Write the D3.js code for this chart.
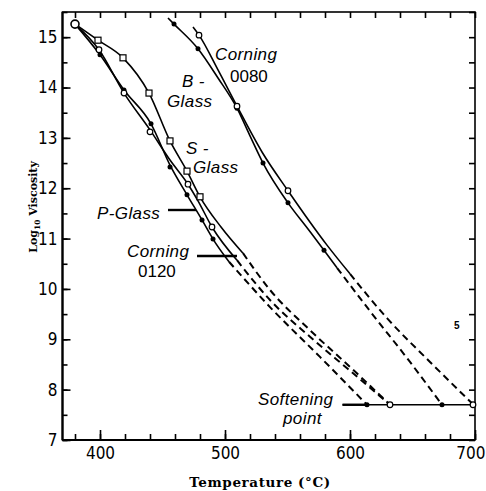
<!DOCTYPE html>
<html><head><meta charset="utf-8">
<script src="https://cdn.jsdelivr.net/npm/d3@7"></script>
<style>body{margin:0;background:#fff}</style>
</head><body>
<svg id="chart" width="486" height="491"></svg>
<script>
// ---- data (temperature °C, log10 viscosity) ----
const xMajorTicks = [400, 500, 600, 700];
const xMinorTicks = [380, 400, 420, 440, 460, 480, 500, 520, 540, 560, 580, 600, 620, 640, 660, 680, 700];
const yMajorTicks = [7, 8, 9, 10, 11, 12, 13, 14, 15];
const yMinorTicks = [7, 7.5, 8, 8.5, 9, 9.5, 10, 10.5, 11, 11.5, 12, 12.5, 13, 13.5, 14, 14.5, 15, 15.5];

const startPoint = [380, 15.26];

const pGlassSolid  = [[380,15.26],[400,14.65],[419.2,13.95],[440.8,13.28],[456,12.46],[469.6,11.87],[481.6,11.37],[490.4,10.99],[503.2,10.54]];
const pGlassDashed = [[503.2,10.54],[536,9.64],[576,8.65],[613.6,7.70]];
const pGlassPoints = [[400,14.65],[419.2,13.95],[440.8,13.28],[456,12.42],[469.6,11.87],[481.6,11.37],[490.4,10.99]];

const c0120Solid  = [[380,15.26],[399.2,14.75],[419.2,13.89],[440,13.16],[456,12.56],[470.4,12.08],[478.4,11.75],[489.6,11.23],[509.6,10.57]];
const c0120Dashed = [[509.6,10.57],[536,9.78],[568,9.05],[598.4,8.41],[632,7.70]];
const c0120Points = [[399.2,14.75],[419.2,13.89],[440,13.12],[470.4,12.08],[489.6,11.23]];

const sGlassSolid  = [[380,15.26],[398.4,14.94],[418.4,14.59],[439.2,13.89],[456,12.94],[469.6,12.34],[480,11.83],[496.8,11.23],[514.4,10.71]];
const sGlassDashed = [[514.4,10.71],[536,9.98],[568,9.18],[599.2,8.47],[632,7.70]];
const sGlassPoints = [[398.4,14.94],[418.4,14.59],[439.2,13.89],[456,12.94],[469.6,12.34],[480,11.83]];

const bGlassSolid  = [[454.4,15.38],[459.2,15.26],[478.4,14.77],[494.4,14.19],[509.6,13.59],[520,13.04],[530.4,12.50],[550.4,11.71],[566.4,11.19],[579.2,10.77],[589.6,10.42]];
const bGlassDashed = [[589.6,10.42],[616,9.56],[648,8.55],[673.6,7.70]];
const bGlassPoints = [[459.2,15.26],[478.4,14.77],[509.6,13.59],[530.4,12.50],[550.4,11.71],[579.2,10.77]];

const c0080Solid  = [[474.4,15.20],[479.2,15.04],[494.4,14.35],[509.6,13.63],[529.6,12.72],[550.4,11.95],[581.6,10.87],[600,10.30]];
const c0080Dashed = [[600,10.30],[629.6,9.42],[664,8.55],[698.4,7.71]];
const c0080Points = [[479.2,15.04],[509.6,13.63],[550.4,11.95]];

const softeningValue = 7.70;
const softeningFrom = 594;
const softeningTo = 700;
const softeningEnds = [[613.6,"filled"],[632,"open"],[673.6,"filled"],[698.4,"open"]];

const series = [
  {name:"P-Glass",      solid:pGlassSolid, dashed:pGlassDashed, points:pGlassPoints, marker:"filled"},
  {name:"Corning 0120", solid:c0120Solid,  dashed:c0120Dashed,  points:c0120Points,  marker:"open"},
  {name:"S-Glass",      solid:sGlassSolid, dashed:sGlassDashed, points:sGlassPoints, marker:"square"},
  {name:"B-Glass",      solid:bGlassSolid, dashed:bGlassDashed, points:bGlassPoints, marker:"filled"},
  {name:"Corning 0080", solid:c0080Solid,  dashed:c0080Dashed,  points:c0080Points,  marker:"open"}
];

// ---- drawing ----
const svg = d3.select("#chart");
const L = 62.5, R = 475, T = 12, B = 440;
const x = d3.scaleLinear().domain([370, 700]).range([L, R]);
const y = d3.scaleLinear().domain([7, 15.5]).range([B, T]);

const tickFont = "'Liberation Sans Narrow','DejaVu Sans Condensed','Liberation Sans',sans-serif";

function styleAxis(g) {
  g.select(".domain").remove();
  g.selectAll(".tick line").attr("stroke", "#000").attr("stroke-width", 1.6);
  g.selectAll(".tick text").attr("fill", "#000").style("font-family", tickFont).style("font-size", "17px");
}

// minor ticks
svg.append("g").attr("transform", `translate(0,${B})`)
  .call(d3.axisBottom(x).tickValues(xMinorTicks).tickSize(-6).tickSizeOuter(0).tickFormat(""))
  .call(styleAxis);
svg.append("g").attr("transform", `translate(0,${T})`)
  .call(d3.axisTop(x).tickValues(xMinorTicks).tickSize(-6).tickSizeOuter(0).tickFormat(""))
  .call(styleAxis);
svg.append("g").attr("transform", `translate(${L},0)`)
  .call(d3.axisLeft(y).tickValues(yMinorTicks).tickSize(-5).tickSizeOuter(0).tickFormat(""))
  .call(styleAxis);
svg.append("g").attr("transform", `translate(${R},0)`)
  .call(d3.axisRight(y).tickValues(yMinorTicks).tickSize(-6).tickSizeOuter(0).tickFormat(""))
  .call(styleAxis);
// major ticks with labels
svg.append("g").attr("transform", `translate(0,${B})`)
  .call(d3.axisBottom(x).tickValues(xMajorTicks).tickSize(-10).tickSizeOuter(0).tickPadding(7).tickFormat(d3.format("d")))
  .call(styleAxis)
  .call(g => g.selectAll(".tick text").filter(d => d === 700).attr("text-anchor", "end").attr("x", 10));
svg.append("g").attr("transform", `translate(${L},0)`)
  .call(d3.axisLeft(y).tickValues(yMajorTicks).tickSize(-8).tickSizeOuter(0).tickPadding(5).tickFormat(d3.format("d")))
  .call(styleAxis);

// frame
svg.append("rect").attr("x", L).attr("y", T).attr("width", R - L).attr("height", B - T)
  .attr("fill", "none").attr("stroke", "#000").attr("stroke-width", 1.6);
svg.append("line").attr("x1", L).attr("x2", L).attr("y1", T).attr("y2", B).attr("stroke", "#000").attr("stroke-width", 2.2);
svg.append("line").attr("x1", L).attr("x2", R).attr("y1", B).attr("y2", B).attr("stroke", "#000").attr("stroke-width", 2.2);

// curves
const line = d3.line().x(d => x(d[0])).y(d => y(d[1])).curve(d3.curveMonotoneX);
const gLines = svg.append("g");
series.forEach(s => {
  gLines.append("path").attr("d", line(s.solid)).attr("fill", "none").attr("stroke", "#000").attr("stroke-width", 1.6);
  gLines.append("path").attr("d", line(s.dashed)).attr("fill", "none").attr("stroke", "#000")
    .attr("stroke-width", 2).attr("stroke-dasharray", "7,4.5");
});

// softening point line
svg.append("line").attr("x1", x(softeningFrom)).attr("x2", x(softeningTo))
  .attr("y1", y(softeningValue)).attr("y2", y(softeningValue)).attr("stroke", "#000").attr("stroke-width", 1.4);
svg.append("line").attr("x1", x(softeningFrom)).attr("x2", x(613.6))
  .attr("y1", y(softeningValue)).attr("y2", y(softeningValue)).attr("stroke", "#000").attr("stroke-width", 2.4);

// markers
function drawMarker(g, px, py, type) {
  if (type === "filled") {
    g.append("circle").attr("cx", px).attr("cy", py).attr("r", 2.5).attr("fill", "#000");
  } else if (type === "open") {
    g.append("circle").attr("cx", px).attr("cy", py).attr("r", 2.8).attr("fill", "#fff").attr("stroke", "#000").attr("stroke-width", 1.2);
  } else {
    g.append("rect").attr("x", px - 3).attr("y", py - 3).attr("width", 6).attr("height", 6)
      .attr("fill", "#fff").attr("stroke", "#000").attr("stroke-width", 1.2);
  }
}
const gMarks = svg.append("g");
series.forEach(s => s.points.forEach(p => drawMarker(gMarks, x(p[0]), y(p[1]), s.marker)));
softeningEnds.forEach(e => drawMarker(gMarks, x(e[0]), y(softeningValue), e[1]));
gMarks.append("circle").attr("cx", x(startPoint[0])).attr("cy", y(startPoint[1])).attr("r", 4)
  .attr("fill", "#fff").attr("stroke", "#000").attr("stroke-width", 1.6);

// curve labels
const labFont = "'Liberation Sans',Arial,sans-serif";
const labels = [
  {t:"Corning", x:215, y:60, it:true},
  {t:"0080", x:230, y:82, it:false},
  {t:"B -", x:182, y:87, it:true},
  {t:"Glass", x:167, y:107, it:true},
  {t:"S -", x:186, y:154, it:true},
  {t:"Glass", x:193, y:173, it:true},
  {t:"P-Glass", x:97, y:219, it:true},
  {t:"Corning", x:127, y:257, it:true},
  {t:"0120", x:138, y:277, it:false},
  {t:"Softening", x:258, y:405, it:true},
  {t:"point", x:283, y:424, it:true}
];
svg.append("g").selectAll("text").data(labels).join("text")
  .attr("x", d => d.x).attr("y", d => d.y)
  .style("font-family", labFont).style("font-size", "17px")
  .style("font-style", d => d.it ? "italic" : "normal")
  .style("letter-spacing", d => d.it ? "0.4px" : "0px")
  .attr("fill", "#000").text(d => d.t);

// label pointers
svg.append("line").attr("x1", 168).attr("x2", 196).attr("y1", 210).attr("y2", 210).attr("stroke", "#000").attr("stroke-width", 2.4);
svg.append("line").attr("x1", 197).attr("x2", 237).attr("y1", 256).attr("y2", 256).attr("stroke", "#000").attr("stroke-width", 2.4);

// stray mark
svg.append("text").attr("x", 454).attr("y", 329).style("font-family", labFont).style("font-size", "10px").style("font-weight", "bold").text("5");

// axis titles
const titleFont = "'DejaVu Serif','Liberation Serif',serif";
const yt = svg.append("text").attr("transform", "translate(37,207) rotate(-90)")
  .attr("text-anchor", "middle").style("font-family", titleFont).style("font-weight", "bold").style("font-size", "11px");
yt.append("tspan").text("Log");
yt.append("tspan").attr("dy", 3).style("font-size", "7.5px").text("10");
yt.append("tspan").attr("dy", -3).text(" Viscosity");
svg.append("text").attr("x", 260).attr("y", 487).attr("text-anchor", "middle")
  .style("font-family", titleFont).style("font-weight", "bold").style("font-size", "13.5px")
  .style("letter-spacing", "0.6px").text("Temperature (°C)");
</script>
</body></html>
